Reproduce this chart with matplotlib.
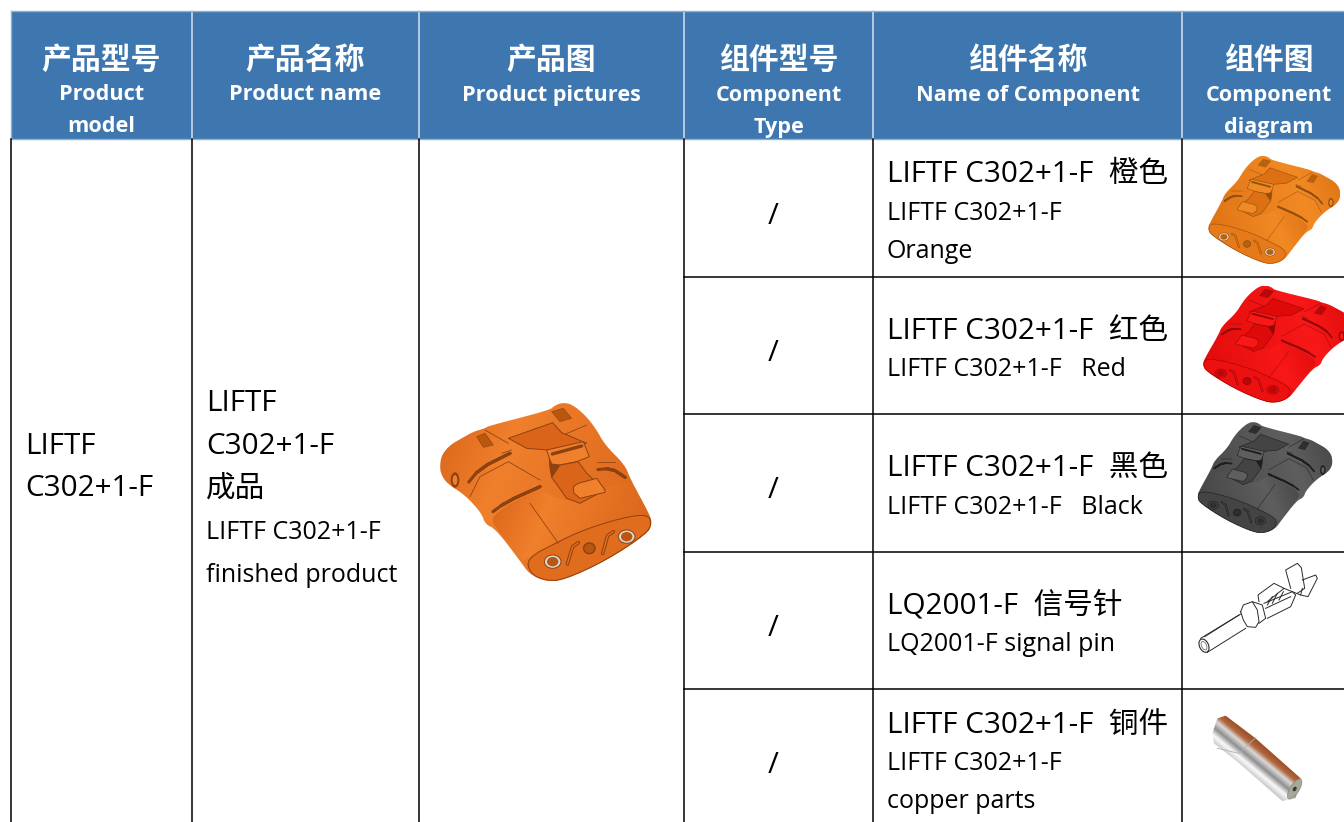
import numpy as np
import matplotlib
matplotlib.use('Agg')
import matplotlib.pyplot as plt
from matplotlib.colors import to_rgb
from matplotlib.patches import Polygon, Rectangle, Ellipse

FONTS = ['Open Sans', 'Noto Sans CJK SC', 'DejaVu Sans']
plt.rcParams['font.family'] = FONTS

# table layout
col_edges = [11, 192, 419, 684, 873, 1182, 1344]
row_edges = [139, 277, 414, 552, 689, 826]

header_cn = ['产品型号', '产品名称', '产品图', '组件型号', '组件名称', '组件图']
header_en = [['Product', 'model'], ['Product name'], ['Product pictures'],
             ['Component', 'Type'], ['Name of Component'], ['Component', 'diagram']]

model_lines = ['LIFTF', 'C302+1-F']
model_y = [444, 486]
name_lines = ['LIFTF', 'C302+1-F', '成品', 'LIFTF C302+1-F', 'finished product']
name_y = [401, 444, 487, 530, 573]
name_big = [True, True, True, False, False]

comp_type = ['/', '/', '/', '/', '/']
comp_type_y = [214, 351, 488, 626, 763]
comp_big = ['LIFTF C302+1-F  橙色', 'LIFTF C302+1-F  红色', 'LIFTF C302+1-F  黑色',
            'LQ2001-F  信号针', 'LIFTF C302+1-F  铜件']
comp_big_y = [173, 329, 466, 604, 723]
comp_small = [['LIFTF C302+1-F', 'Orange'], ['LIFTF C302+1-F   Red'], ['LIFTF C302+1-F   Black'],
              ['LQ2001-F signal pin'], ['LIFTF C302+1-F', 'copper parts']]
comp_small_y = [[211, 249], [367], [505], [642], [761, 799]]

HEADER_BLUE = '#3E77B0'

# connector shapes, in the coordinates of the zoomed product picture
body_pts = [(30, 225), (35, 195), (60, 165), (95, 145), (130, 125), (165, 115), (175, 108), (360, 60), (372, 48),
            (395, 38), (425, 42), (465, 75), (497, 115), (525, 165), (585, 225), (600, 265), (658, 372), (667, 400),
            (652, 432), (530, 512), (400, 572), (345, 574), (298, 552), (272, 515), (198, 418), (165, 402),
            (155, 370), (105, 315), (50, 280), (32, 250)]
face_pts = [(290, 505), (385, 455), (460, 420), (570, 385), (652, 372), (665, 400), (650, 430), (530, 510),
            (400, 570), (345, 572), (300, 550)]
front_pts = [(200, 415), (180, 385), (240, 340), (335, 297), (365, 320), (420, 335), (500, 300), (595, 270),
             (652, 372), (570, 385), (460, 420), (385, 455), (290, 505), (275, 515)]
plate_pts = [(235, 145), (368, 98), (395, 128), (470, 160), (355, 180), (290, 175)]
strap_pts = [(350, 180), (460, 155), (478, 200), (440, 215), (390, 225), (365, 222), (358, 205)]
strap_side_pts = [(358, 205), (365, 222), (390, 225), (395, 262), (365, 262), (360, 235)]
pad_pts = [(365, 262), (390, 225), (445, 215), (470, 250), (525, 300), (450, 340), (410, 325)]
tab_pts = [(430, 290), (445, 280), (500, 265), (525, 300), (525, 307), (450, 325), (432, 310)]
slot_top_pts = [(140, 140), (165, 130), (190, 165), (160, 172)]
slot_rear_pts = [(365, 65), (400, 55), (425, 85), (390, 95)]
grooves = [[(175, 375), (230, 335), (330, 290)], [(490, 240), (545, 235), (585, 262)],
           [(105, 290), (150, 235), (240, 190)]]
seams = [[(120, 320), (150, 260), (235, 215), (330, 270)], [(215, 190), (245, 180)], [(300, 340), (385, 460)],
         [(500, 215), (555, 215)], [(400, 135), (470, 105)], [(165, 120), (235, 160)]]
label_line = [(367, 192), (455, 168)]
holes = [(368, 515), (590, 440)]
center_hole = (478, 475)
side_hole = (75, 270)
slots = [[(412, 522), (428, 470), (445, 458)], [(518, 490), (533, 437), (550, 425)]]

PALETTES = {
    # light, mid, dark, face, hole
    'main': ['#F0802C', '#D9641A', '#8E4210', '#E06C1E', '#B9560F'],
    'orange': ['#F28A24', '#DC7012', '#94500E', '#E67A18', '#B8620F'],
    'red': ['#F81818', '#DE0A0A', '#960808', '#EC1010', '#B80808'],
    'black': ['#5E5E5E', '#444444', '#1E1E1E', '#444444', '#2E2E2E'],
}

# terminal pin sketch and copper part, in the coordinates of the zoomed right column
pin_lines = [[(50, 670), (165, 600)], [(70, 712), (185, 640)], [(62, 665), (170, 597)],
             [(170, 590), (178, 570), (205, 560), (220, 585), (225, 620), (215, 637), (190, 635), (178, 615), (170, 590)],
             [(205, 560), (235, 570), (245, 610), (225, 625)],
             [(240, 565), (325, 530), (335, 540), (320, 575), (250, 610)], [(245, 580), (320, 545)],
             [(225, 560), (222, 540), (270, 505), (290, 515), (300, 520), (250, 560)],
             [(250, 570), (265, 545)], [(265, 565), (280, 535)], [(285, 555), (298, 530)],
             [(300, 520), (350, 540), (355, 520)],
             [(320, 520), (305, 465), (340, 445), (352, 458), (362, 520), (340, 535)],
             [(355, 495), (395, 480), (400, 490), (372, 545), (350, 540)]]
pin_end = (60, 692)
copper_pts = [(85, 955), (100, 910), (125, 902), (215, 970), (350, 1090), (335, 1150), (295, 1158), (160, 1040), (90, 985)]
copper_stops = [0.0, 0.40, 0.44, 0.48, 0.53, 0.58, 0.64, 1.0]
copper_cols = ['#A0522D', '#A0522D', '#B06A40', '#DADADA', '#8E8E8E', '#FAFAFA', '#C0C0C0', '#C0C0C0']
copper_end = (332, 1122)
copper_step = [(100, 1000), (165, 1015), (215, 968)]


def smooth(pts, n=2):
    # corner cutting so the outlines come out round
    p = np.asarray(pts, dtype=float)
    for _ in range(n):
        q = np.roll(p, -1, axis=0)
        p = np.column_stack([0.75 * p + 0.25 * q, 0.25 * p + 0.75 * q]).reshape(-1, 2)
    return p


def gradient_fill(ax, patch, stops, cols, dx, dy, z):
    # fills a patch with a gradient by clipping an image to it
    xy = patch.get_xy()
    x0, x1, y0, y1 = xy[:, 0].min(), xy[:, 0].max(), xy[:, 1].min(), xy[:, 1].max()
    u = np.linspace(0, 1, 128)
    xx, yy = np.meshgrid(u, u)
    t = dx * xx + dy * yy
    t = (t - t.min()) / (t.max() - t.min())
    rgb = np.array([to_rgb(c) for c in cols])
    img = np.dstack([np.interp(t, stops, rgb[:, i]) for i in range(3)])
    im = ax.imshow(img, extent=[x0, x1, y1, y0], aspect='auto', zorder=z, interpolation='bilinear')
    patch.set_facecolor('none')
    patch.set_edgecolor('none')
    ax.add_patch(patch)
    im.set_clip_path(patch)


def draw_connector(ax, name, x0, y0, sx, sy, flip=False):
    light, mid, dark, face, hole = PALETTES[name]

    def tx(pts):
        p = np.asarray(pts, dtype=float).reshape(-1, 2).copy()
        if flip:
            p[:, 0] = 695 - p[:, 0]
        return np.column_stack([x0 + p[:, 0] * sx, y0 + p[:, 1] * sy])

    thin = 0.7 if sx > 0.25 else 0.4
    sign = -1 if flip else 1

    def poly(pts, fc, z, lw=thin):
        ax.add_patch(Polygon(tx(pts), closed=True, facecolor=fc, edgecolor=dark, lw=lw, zorder=z))

    def line(pts, lw, z, color=dark):
        p = tx(pts)
        ax.plot(p[:, 0], p[:, 1], color=color, lw=lw, solid_capstyle='round', zorder=z)

    body = Polygon(tx(smooth(body_pts)), closed=True, zorder=3)
    gradient_fill(ax, body, [0, 0.3, 1], [mid, light, mid], sign, 0.3, 3)
    front = Polygon(tx(smooth(front_pts)), closed=True, zorder=4)
    gradient_fill(ax, front, [0, 0.35, 1], [mid, light, mid], sign, 0.2, 4)
    poly(smooth(face_pts), face, 5)
    for g in grooves:
        line(smooth(g + g[::-1], 1)[:-3], thin * 3.2, 6)
    for s in seams:
        line(s, thin * 0.8, 5)
    poly(slot_top_pts, hole, 6, thin * 0.6)
    poly(slot_rear_pts, hole, 6, thin * 0.6)
    poly(plate_pts, mid, 7)
    poly(strap_side_pts, dark, 7)
    poly(strap_pts, light, 8)
    poly(pad_pts, mid, 8)
    poly(tab_pts, light, 9)
    line(label_line, thin * 3.4, 9)
    for s in slots:
        line(s, thin * 3.6, 6)
        line(s, thin * 1.6, 7, face)
    for h in holes:
        c = tx([h])[0]
        ax.add_patch(Ellipse(c, 50 * sx, 40 * sy, facecolor='#D9D4CC' if name in ('main', 'orange') else mid,
                             edgecolor=dark, lw=thin, zorder=6))
        ax.add_patch(Ellipse(c, 34 * sx, 28 * sy, facecolor=hole, zorder=7))
    c = tx([center_hole])[0]
    ax.add_patch(Ellipse(c, 34 * sx, 32 * sy, facecolor=hole, edgecolor=dark, lw=thin * 1.5, zorder=6))
    c = tx([side_hole])[0]
    ax.add_patch(Ellipse(c, 26 * sx, 46 * sy, facecolor=dark, zorder=6))
    ax.add_patch(Ellipse(c, 14 * sx, 30 * sy, facecolor=light, zorder=7))


def right_col(pts):
    p = np.asarray(pts, dtype=float).reshape(-1, 2)
    return np.column_stack([1184 + p[:, 0] / 3, 415 + p[:, 1] / 3])


def draw_pin(ax):
    for pts in pin_lines:
        p = right_col(pts)
        ax.plot(p[:, 0], p[:, 1], color='#2A2A2A', lw=0.7, zorder=4)
    ax.add_patch(Ellipse(right_col([pin_end])[0], 9, 14, angle=-25, facecolor='white', edgecolor='#2A2A2A', lw=0.8, zorder=5))
    ax.add_patch(Ellipse(right_col([pin_end])[0], 5, 9, angle=-25, facecolor='white', edgecolor='#555555', lw=0.5, zorder=5))


def draw_copper(ax):
    shell = Polygon(right_col(copper_pts), closed=True, zorder=3)
    gradient_fill(ax, shell, copper_stops, copper_cols, -0.65, 0.76, 3)
    p = right_col(copper_step)
    ax.plot(p[:, 0], p[:, 1], color='#B0B0B0', lw=0.6, zorder=4)
    c = right_col([copper_end])[0]
    ax.add_patch(Ellipse(c, 9, 23, angle=32, facecolor='#A8A898', edgecolor='#8A8A80', lw=0.5, zorder=5))
    ax.add_patch(Ellipse(c, 3.5, 5, angle=32, facecolor='#3A3A30', zorder=6))


fig = plt.figure(figsize=(13.44, 8.22), dpi=100)
ax = fig.add_axes([0, 0, 1, 1])

# header band
ax.add_patch(Rectangle((col_edges[0], 11), col_edges[-1] - col_edges[0], row_edges[0] - 11,
                       facecolor=HEADER_BLUE, edgecolor='none', zorder=1))
for x in col_edges[1:-1]:
    ax.plot([x, x], [11, row_edges[0]], color='#D5E2EF', lw=1.1, zorder=2)
ax.plot([col_edges[0], col_edges[-1]], [11.5, 11.5], color='#8FB0D2', lw=1, zorder=2)
ax.plot([col_edges[0], col_edges[-1]], [row_edges[0], row_edges[0]], color='#8FB0D2', lw=1, zorder=2)
ax.plot([col_edges[0], col_edges[0]], [11, row_edges[0]], color='#8FB0D2', lw=1, zorder=2)

for i, (cn, en) in enumerate(zip(header_cn, header_en)):
    cx = (col_edges[i] + col_edges[i + 1]) / 2
    if i == 5:
        cx = 1269
    ax.text(cx, 61, cn, color='white', fontsize=21.5, fontweight='bold', ha='center', va='center', zorder=3)
    for j, line in enumerate(en):
        ax.text(cx, 95 + j * 32, line, color='white', fontsize=15.6, fontweight='bold',
                ha='center', va='center', zorder=3)

# body grid
for x in col_edges[:-1]:
    ax.plot([x, x], [row_edges[0], 822], color='black', lw=1.1, zorder=2)
for y in row_edges[1:-1]:
    ax.plot([col_edges[3], col_edges[-1]], [y, y], color='black', lw=1.1, zorder=2)

BIG = 21.3
SMALL = 18
for line, y in zip(model_lines, model_y):
    ax.text(25, y + 2, line, fontsize=BIG, ha='left', va='center', color='black', zorder=3)
for line, y, big in zip(name_lines, name_y, name_big):
    ax.text(206, y + 2, line, fontsize=BIG if big else SMALL, ha='left', va='center', color='black', zorder=3)
for s, y in zip(comp_type, comp_type_y):
    ax.text(773, y + 2, s, fontsize=BIG, ha='center', va='center', color='black', zorder=3)
for s, y in zip(comp_big, comp_big_y):
    ax.text(887, y + 2, s, fontsize=BIG, ha='left', va='center', color='black', zorder=3)
for lines, ys in zip(comp_small, comp_small_y):
    for s, y in zip(lines, ys):
        ax.text(887, y + 2, s, fontsize=SMALL, ha='left', va='center', color='black', zorder=3)

# pictures
draw_connector(ax, 'main', 430, 390, 1 / 3, 1 / 3)
draw_connector(ax, 'orange', 1202, 148, 0.208, 0.202, flip=True)
draw_connector(ax, 'red', 1196, 277, 0.235, 0.219, flip=True)
draw_connector(ax, 'black', 1191, 414, 0.2126, 0.2075, flip=True)
draw_pin(ax)
draw_copper(ax)

ax.set_xlim(0, 1344)
ax.set_ylim(822, 0)
ax.axis('off')
fig.savefig('out.png', dpi=100, facecolor='white')
